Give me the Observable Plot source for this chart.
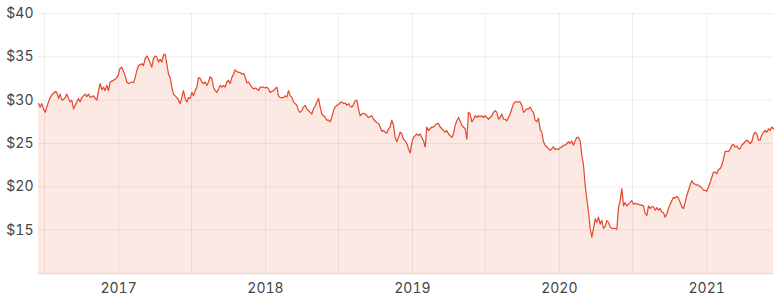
<!DOCTYPE html>
<html><head><meta charset="utf-8">
<script src="https://cdn.jsdelivr.net/npm/d3@7"></script>
<script src="https://cdn.jsdelivr.net/npm/@observablehq/plot@0.6"></script>
<style>html,body{margin:0;padding:0;background:#fff;}</style>
</head><body><div id="chart"></div>
<script>
// Share price, roughly every 4 days from mid-June 2016 to mid-June 2021
const startDate = "2016-06-16";
const stepDays = 4.1406;

const pricesA = [29.6,29.2,29.6,29.0,28.6,29.2,29.8,30.3,30.6,30.8,
31.0,30.9,30.2,30.7,30.0,30.1,30.3,30.7,30.2,29.8,
30.0,29.0,29.4,29.8,30.2,29.8,30.3,30.5,30.7,30.4,
30.7,30.3,30.4,30.5,30.2,30.0,31.1,31.9,31.2,31.5,
31.1,31.7,31.1,32.1,32.2,32.3,32.4,32.6,33.0,33.7,
33.8,33.3,32.8,32.1,31.9,32.0,32.1,32.0,32.6,33.4,
34.0,34.1,34.2,34.0,34.8,35.1,34.8,34.3,33.8,34.8,
35.1,35.0,34.4,34.7,34.4];
const pricesB = [35.2,35.3,34.2,33.0,32.6,
31.5,30.7,30.5,30.3,30.0,29.6,30.3,31.1,30.2,29.8,
30.3,30.2,30.9,30.5,31.1,31.5,32.6,32.5,32.1,31.9,
32.1,31.7,32.1,32.7,32.5,31.5,31.1,30.9,31.3,31.7,
31.5,31.7,31.5,32.1,32.3,31.9,32.6,33.0,33.5,33.3,
33.2,33.2,33.0,33.1,32.7,32.0,32.1,31.8,31.5,31.3,
31.4,31.3,31.1,31.5,31.5,31.5,31.4,31.5,31.3,30.9,
31.0,31.1,31.3,31.5,30.5,30.3,30.3,30.3,30.5];
const pricesC = [30.35,31.1,30.5,30.35,29.8,29.6,29.4,28.8,28.6,28.8,
29.2,29.4,29.0,28.8,28.6,28.4,29.0,29.3,29.8,30.2,
29.2,28.4,28.2,28.0,27.7,27.7,27.5,28.0,28.8,29.2,
29.4,29.5,29.7,29.8,29.6,29.7,29.4,29.6,29.3,29.2,
29.5,29.9,30.0,29.0,28.2,28.4,28.5,28.4,28.2,28.0,
28.1,28.2,27.8,27.6,27.4,27.3,26.9,26.4,26.5,26.3,
26.2,26.7,26.9,27.7,27.1,25.7,25.2,25.7,26.3,26.1,
25.5,25.3,25.0];
const pricesD = [24.4,23.9,25.1,25.7,25.9,26.1,25.9,26.1,
25.7,25.3,24.6,26.9,26.5,26.7,26.9,26.9,27.1,27.3,
27.3,26.9,26.7,26.5,26.3,26.5,26.1,25.9,25.7,26.1,
27.1,27.6,28.0,27.6,27.1,26.9,26.7,25.5,28.6,28.4,
27.5,27.8,28.2,28.0,28.2,28.1,28.2,28.0,28.2,28.0,
27.8,28.0,28.2,28.6,28.8,28.6,27.8,28.0,28.4,27.8,
27.8,27.6,28.0,28.4,29.0,29.6,29.8,29.8,29.8,29.8,
29.4,28.6,28.8,29.0,29.0,29.2,28.8,28.6];
const pricesE = [27.7,27.5,
27.9,26.6,26.3,25.2,24.8,24.6,24.4,24.2,24.4,24.6,
24.3,24.4,24.3,24.5,24.6,24.8,24.8,25.0,25.2,25.0,
25.3,24.8,25.3,25.7,25.7,25.3,23.6,22.5,20.2,18.6,
17.1,15.2,14.2,15.2,16.3,15.9,16.5,15.7,16.1,15.2,
15.4,16.1,15.9,15.4,15.2,15.2,15.2,15.1,17.6,18.4,
19.8,17.8,18.2,17.8,18.0,18.2,18.4,18.0,18.1,18.0,
18.0,17.9,17.9,17.8,16.9,16.7,17.8,17.5,17.7];
const pricesF = [17.7,17.3,17.6,17.3,17.5,17.1,17.0,16.5,16.9,17.5,
18.0,18.4,18.8,18.7,18.9,18.7,18.2,17.7,17.5,18.2,
19.0,19.6,20.2,20.7,20.4,20.3,20.2,20.2,20.0,19.9,
19.6,19.6,19.5,20.0,20.5,21.1,21.7,21.7,21.5,22.0,
22.1,22.5,23.2,24.1,24.1,24.1,24.3,24.8,24.9,24.6,
24.7,24.4,24.4,24.8,25.0,25.2,25.4,25.2,25.0,25.2,
26.0,26.3,26.1,25.4,25.4,26.0,26.3,26.5,26.3,26.7,
26.5,26.9,26.7];

const yTicks = [15, 20, 25, 30, 35, 40];
const yBase = 10;
const yearLabels = ["2017", "2018", "2019", "2020", "2021"];

const values = [...pricesA, ...pricesB, ...pricesC, ...pricesD, ...pricesE, ...pricesF];
const t0 = new Date(startDate + "T00:00:00Z");
const data = values.map((v, i) => ({date: new Date(+t0 + i * stepDays * 864e5), price: v}));
const xDomain = [data[0].date, data[data.length - 1].date];
const yearTicks = yearLabels.map(y => new Date(y + "-01-01T00:00:00Z"));
const gridDates = d3.utcMonth.every(6).range(xDomain[0], xDomain[1]);

const chart = Plot.plot({
  width: 780, height: 303,
  marginLeft: 38, marginRight: 7, marginTop: 13, marginBottom: 30,
  style: {fontFamily: "Inter, 'Noto Sans', sans-serif", fontSize: "14px", color: "#454545", background: "#fff"},
  x: {type: "utc", domain: xDomain},
  y: {domain: [yBase, 40]},
  marks: [
    Plot.areaY(data, {x: "date", y1: yBase, y2: "price", fill: "#fde9e3"}),
    Plot.gridY(yTicks, {stroke: "#000", strokeOpacity: 0.065}),
    Plot.gridX(gridDates, {stroke: "#000", strokeOpacity: 0.065}),
    Plot.ruleY([yBase], {stroke: "#f3d8d0", strokeWidth: 1.5}),
    Plot.lineY(data, {x: "date", y: "price", stroke: "#e4472b", strokeWidth: 1.2}),
    Plot.axisY(yTicks, {tickSize: 0, tickPadding: 5, tickFormat: d => "$" + d, label: null, fontSize: 14}),
    Plot.axisX(yearTicks, {tickSize: 0, tickPadding: 10, tickFormat: d => String(d.getUTCFullYear()), label: null, fontSize: 14})
  ]
});
document.getElementById("chart").append(chart);
</script>
</body></html>
